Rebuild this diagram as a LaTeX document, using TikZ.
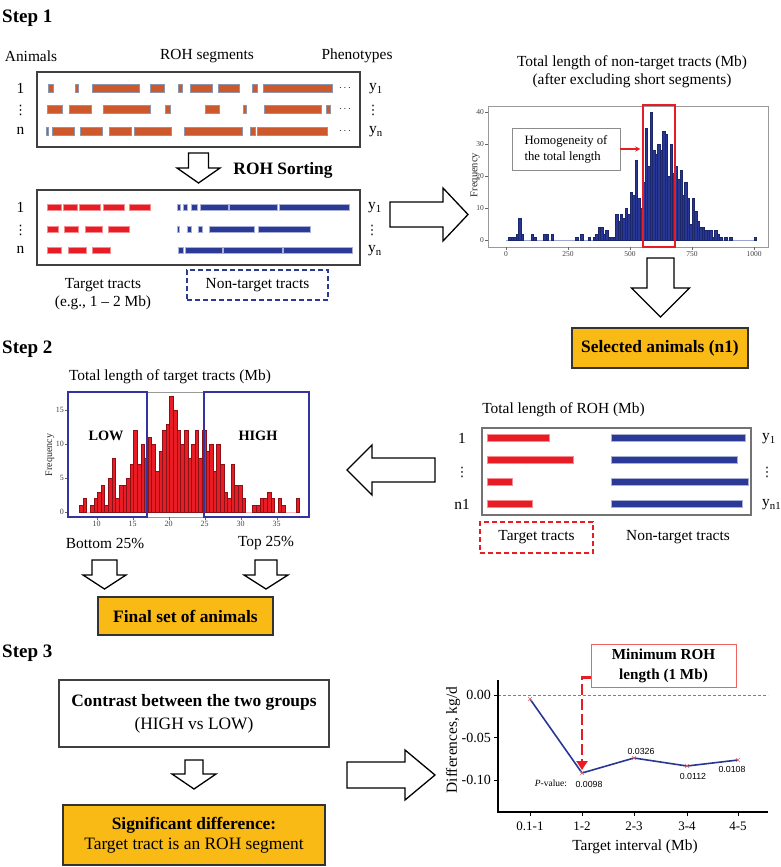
\documentclass[tikz,border=0pt]{standalone}
\usepackage{fontspec}
\setmainfont{Liberation Serif}
\newfontfamily\sansfont{Liberation Sans}
\newfontfamily\symfont{DejaVu Sans}
\usetikzlibrary{arrows.meta}
\definecolor{rohorange}{RGB}{204,88,44}
\definecolor{rohedge}{RGB}{140,150,175}
\definecolor{trgred}{RGB}{232,28,36}
\definecolor{ntblue}{RGB}{42,58,150}
\definecolor{histblue}{RGB}{40,55,150}
\definecolor{boxyellow}{RGB}{249,186,22}
\definecolor{frameblue}{RGB}{52,52,160}
\definecolor{pinkred}{RGB}{238,100,95}
\newcommand{\rowdots}{{\symfont\fontsize{13}{15}\selectfont ⋮}}

\begin{document}
\begin{tikzpicture}[x=1pt, y=-1pt,
  steplbl/.style={font=\fontsize{19}{22}\selectfont\bfseries, anchor=west, inner sep=0pt},
  lbl/.style={font=\fontsize{15.4}{18}\selectfont, align=center, inner sep=0pt},
  blbl/.style={font=\fontsize{17.4}{21}\selectfont\bfseries, align=center, inner sep=0pt},
  boxtxt/.style={font=\fontsize{17.4}{22}\selectfont, align=center, inner sep=0pt},
  ticklbl/.style={font=\fontsize{8}{9}\selectfont, inner sep=1pt, text=black!75},
  axlbl/.style={font=\fontsize{10.5}{12}\selectfont, inner sep=0pt, rotate=90, text=black!85},
  frame/.style={draw=black!75, line width=1.1pt},
  panel/.style={draw=black!40, line width=0.7pt},
  goldbox/.style={draw=black!80, fill=boxyellow, line width=1.1pt},
  blockarr/.style={draw=black, line width=1.3pt, fill=white},
  rawseg/.style={fill=rohorange, draw=rohedge, line width=0.6pt},
  tgtseg/.style={fill=trgred, draw=trgred!50!white, line width=0.4pt},
  ntseg/.style={fill=ntblue, draw=ntblue!40!white, line width=0.4pt},
  bluebar/.style={fill=histblue, draw=histblue!70!black, line width=0.2pt},
  redbar/.style={fill=trgred, draw=trgred!60!black, line width=0.2pt},
  dashbox/.style={dash pattern=on 5pt off 3pt, line width=1.2pt},
  pval/.style={font=\sansfont\fontsize{8.8}{10}\selectfont, inner sep=0pt}
]
\useasboundingbox (0,0) rectangle (780,867);

% ---------- Step 1 ----------
\node[steplbl] (step1) at (2,18) {Step 1};
\node[lbl] (animals) at (31,56) {Animals};
\node[lbl] (rohseg) at (207,56) {ROH segments};
\node[lbl] (pheno) at (357,56) {Phenotypes};

\node[frame, minimum width=323pt, minimum height=75pt] (rawbox) at (198.5,109.5) {};
\foreach \yy/\lst in {88/{48/53,75/78,92/139,150/164,178/182,190/212,218/239,252/257,263/332},
                      109/{47/62,69/91,103/150,165/170,205/219,243/246,264/321,326/330},
                      131/{46/48,52/74,80/102,109/131,134/171,184/242,250/255,257/327}}
  \foreach \a/\b in \lst \draw[rawseg] (\a,\yy-4) rectangle (\b,\yy+4);
\foreach \yy in {88,109,131} \node[font=\fontsize{10}{12}\selectfont] at (345,\yy) {$\cdots$};
\node[lbl] (rawid1) at (20.5,88) {1};
\node[lbl] (rawid2) at (20.5,110) {\rowdots};
\node[lbl] (rawid3) at (20.5,131) {n};
\node[lbl, anchor=west] (rawph1) at (369,89) {y\textsubscript{1}};
\node[lbl] (rawph2) at (373,110) {\rowdots};
\node[lbl, anchor=west] (rawph3) at (369,132) {y\textsubscript{n}};

% sorting arrow
\draw[blockarr] (188.5,153) -- (208.5,153) -- (208.5,168) -- (220,168) -- (198.5,183)
  -- (177,168) -- (188.5,168) -- cycle;
\node[blbl] (sorting) at (283,170) {ROH Sorting};

\node[frame, minimum width=323pt, minimum height=75pt] (sortbox) at (198.5,227.5) {};
\foreach \yy/\lst in {207/{47/61,63/77,79/100,103/124,129/150},
                      229/{47/58,64/78,85/102,108/129},
                      250/{47/61,68/86,92/110}}
  \foreach \a/\b in \lst \draw[tgtseg] (\a,\yy-3) rectangle (\b,\yy+3);
\foreach \yy/\lst in {207/{177/180,183/187,191/197,200/228,229/277,279/349},
                      229/{177/179,187/191,198/202,209/254,258/310},
                      250/{178/183,185/222,223/282,283/352}}
  \foreach \a/\b in \lst \draw[ntseg] (\a,\yy-3) rectangle (\b,\yy+3);
\node[lbl] (sortid1) at (20.5,207) {1};
\node[lbl] (sortid2) at (20.5,230) {\rowdots};
\node[lbl] (sortid3) at (20.5,250) {n};
\node[lbl, anchor=west] (sortph1) at (368,208) {y\textsubscript{1}};
\node[lbl] (sortph2) at (372,230) {\rowdots};
\node[lbl, anchor=west] (sortph3) at (368,251) {y\textsubscript{n}};

\node[lbl] (tgtnote) at (103,294) {Target tracts\\(e.g., 1 -- 2 Mb)};
\node[lbl, draw=ntblue, dashbox, minimum width=141pt, minimum height=30pt] (ntnote) at (257.5,285) {Non-target tracts};

% arrow to histogram
\draw[blockarr] (390,202) -- (443,202) -- (443,188) -- (468,214.5) -- (443,241)
  -- (443,227) -- (390,227) -- cycle;

% histogram of non-target tracts
\node[lbl] (h1title) at (632,71.5) {Total length of non-target tracts (Mb)\\(after excluding short segments)};
\draw[panel] (488,106) rectangle (768,247);
\draw[histblue!45!white, line width=1pt] (506,240) -- (756,240);
\foreach \v [count=\i from 0] in {0,1,1,1,2,7,2,0,0,0,
    2,1,0,0,0,2,2,0,2,0, 0,0,0,0,0,0,0,0,1,0, 2,0,0,1,0,1,2,4,4,2,
    3,1,1,1,8,6,8,7,10,8, 15,14,25,13,10,18,35,23,40,28, 27,30,28,34,33,20,30,21,23,19,
    22,14,18,13,5,13,9,6,4,4, 3,3,3,1,3,2,1,0,1,0, 1,0,0,0,0,0,0,0,0,0, 1}
  {\ifnum\v>0 \draw[bluebar] ({506+\i*2.48},240) rectangle ++(2.48,{-\v*3.2}); \fi}
\foreach \v in {0,10,20,30,40} {
  \draw[black!60] (485,{240-\v*3.2}) -- (488,{240-\v*3.2});
  \node[ticklbl, anchor=east, font=\fontsize{7.5}{9}\selectfont] at (485,{240-\v*3.2}) {\v};}
\foreach \v in {0,250,500,750,1000} {
  \draw[black!60] ({506+\v*0.248},247) -- ++(0,3);
  \node[ticklbl, anchor=north, font=\fontsize{7.5}{9}\selectfont] at ({506+\v*0.248},250) {\v};}
\node[axlbl] (h1ylab) at (475,175) {Frequency};
\node[draw=trgred, line width=1.5pt, minimum width=32pt, minimum height=142pt] (homowin) at (659,176) {};
\node[draw=black!45, line width=0.8pt, fill=white, font=\fontsize{12.7}{16}\selectfont, align=left,
  minimum width=108pt, minimum height=42pt, inner sep=0pt] (homog) at (566,149) {Homogeneity of\\the total length};
\draw[-{Stealth[length=5pt,width=5pt]}, trgred, line width=1.3pt, shorten >=2pt]
  (homog.east) -- (homog.east -| homowin.west);

\draw[blockarr] (647,258) -- (674,258) -- (674,288) -- (689.5,288) -- (660.5,317)
  -- (631.5,288) -- (647,288) -- cycle;
\node[goldbox, blbl, minimum width=176pt, minimum height=40pt] (selected) at (660,348) {Selected animals (n1)};

% ---------- Step 2 ----------
\node[steplbl] (step2) at (2,349) {Step 2};
\node[lbl] (h2title) at (170,377) {Total length of target tracts (Mb)};
\draw[panel] (68,392) rectangle (309,517);
\draw[trgred!30!white, line width=1pt] (79,512) -- (300,512);
\foreach \v [count=\i from 0] in {1,2,0,1,2,3,4,1,5,8, 2,4,4,5,7,12,7,10,8,11,
    10,6,9,12,13,17,15,12,10,12, 8,10,12,8,12,9,10,6,10,7, 3,2,7,4,4,2,0,0,1,1,
    2,2,3,2,0,2,1,0,0,0, 2}
  {\ifnum\v>0 \draw[redbar] ({79.3+\i*3.61},512) rectangle ++(3.61,{-\v*6.8}); \fi}
\foreach \v in {0,5,10,15} {
  \draw[black!60] (65,{512-\v*6.8}) -- (68,{512-\v*6.8});
  \node[ticklbl, anchor=east] at (65,{512-\v*6.8}) {\v};}
\foreach \v in {10,15,20,25,30,35} {
  \draw[black!60] ({96.7+(\v-10)*7.2},517) -- ++(0,3);
  \node[ticklbl, anchor=north] at ({96.7+(\v-10)*7.2},520) {\v};}
\node[axlbl, font=\fontsize{10}{12}\selectfont] (h2ylab) at (50,455) {Frequency};
\node[draw=frameblue, line width=2pt, minimum width=79pt, minimum height=125pt] (lowwin) at (107.5,454.5) {};
\node[draw=frameblue, line width=2pt, minimum width=105pt, minimum height=125pt] (highwin) at (256.5,454.5) {};
\node[blbl, font=\fontsize{14.3}{17}\selectfont\bfseries] (lowlbl) at (106,436) {LOW};
\node[blbl, font=\fontsize{14.3}{17}\selectfont\bfseries] (highlbl) at (258,436) {HIGH};
\node[lbl] (bottom) at (105,543) {Bottom 25\%};
\node[lbl] (top) at (266,543) {Top 25\%};

\draw[blockarr] (92,560) -- (117,560) -- (117,575) -- (126,575) -- (104.5,589)
  -- (83,575) -- (92,575) -- cycle;
\draw[blockarr] (255,560) -- (277,560) -- (277,575) -- (288,575) -- (266,589)
  -- (244,575) -- (255,575) -- cycle;
\node[goldbox, blbl, minimum width=175pt, minimum height=38pt] (finalset) at (185.5,616) {Final set of animals};

% total ROH per animal
\node[lbl] (rohtitle) at (563.5,410) {Total length of ROH (Mb)};
\node[draw=black!55, line width=1.5pt, minimum width=269pt, minimum height=87pt] (rohbox) at (616.5,471.5) {};
\foreach \yy/\e in {438/549,460/573,482/512,504/532} \draw[tgtseg] (487,\yy-3.5) rectangle (\e,\yy+3.5);
\foreach \yy/\e in {438/745,460/737,482/748,504/742} \draw[ntseg] (611,\yy-3.5) rectangle (\e,\yy+3.5);
\node[lbl] (rohid1) at (462,438) {1};
\node[lbl] (rohid2) at (462,472) {\rowdots};
\node[lbl] (rohid3) at (462,504) {n1};
\node[lbl, anchor=west] (rohph1) at (762,439) {y\textsubscript{1}};
\node[lbl] (rohph2) at (767,472) {\rowdots};
\node[lbl, anchor=west] (rohph3) at (762,505) {y\textsubscript{n1}};
\node[lbl, draw=trgred, dashbox, minimum width=113pt, minimum height=31pt] (tgtbox) at (536.5,537.5) {Target tracts};
\node[lbl] (ntlbl) at (678,537) {Non-target tracts};

\draw[blockarr] (435,458) -- (372,458) -- (372,445) -- (347,470) -- (372,495)
  -- (372,482) -- (435,482) -- cycle;

% ---------- Step 3 ----------
\node[steplbl] (step3) at (2,653) {Step 3};
\node[frame, boxtxt, minimum width=270pt, minimum height=67pt, font=\fontsize{17.4}{23}\selectfont]
  (contrast) at (194,713.5) {\textbf{Contrast between the two groups}\\(HIGH vs LOW)};
\draw[blockarr] (185,760) -- (203,760) -- (203,774) -- (216,774) -- (194,789)
  -- (172,774) -- (185,774) -- cycle;
\node[goldbox, boxtxt, minimum width=262pt, minimum height=60pt, font=\fontsize{17.4}{20}\selectfont]
  (signif) at (194,835) {\textbf{Significant difference:}\\Target tract is an ROH segment};
\draw[blockarr] (347,762) -- (405,762) -- (405,750) -- (435,775) -- (405,800)
  -- (405,788) -- (347,788) -- cycle;

% difference plot
\draw[pinkred!90!black, line width=1pt, dash pattern=on 2.5pt off 2.5pt] (498,695) -- (768,695);
\draw[black, line width=1.2pt] (498,680) -- (498,812) -- (768,812);
\foreach \v/\t in {0/0.00,1/-0.05,2/-0.10} {
  \draw[black, line width=0.8pt] (494,{695+\v*42.5}) -- (498,{695+\v*42.5});
  \node[anchor=east, inner sep=0pt, font=\fontsize{14}{16}\selectfont] at (491,{695+\v*42.5}) {\t};}
\foreach \xx/\t in {530/0.1-1,582/1-2,634/2-3,687/3-4,738/4-5} {
  \draw[black, line width=0.8pt] (\xx,812) -- (\xx,816);
  \node[inner sep=0pt, font=\fontsize{13}{15}\selectfont] at (\xx,826) {\t};}
\node[inner sep=0pt, rotate=90, font=\fontsize{15.4}{18}\selectfont] (diffylab) at (453,740) {Differences, kg/d};
\node[lbl] (diffxlab) at (635,847) {Target interval (Mb)};
\coordinate (d1) at (530,699);
\coordinate (d2) at (582,773);
\coordinate (d3) at (634,758);
\coordinate (d4) at (687,766);
\coordinate (d5) at (738,760);
\draw[histblue, line width=1.6pt] (d1) -- (d2) -- (d3) -- (d4) -- (d5);
\foreach \p in {d1,d2,d3,d4,d5}
  \draw[pinkred, line width=0.5pt] ([shift={(-2,-2)}]\p) -- ([shift={(2,2)}]\p)
    ([shift={(-2,2)}]\p) -- ([shift={(2,-2)}]\p);
\node[inner sep=0pt, font=\fontsize{9.5}{11}\selectfont] (pvlbl) at (551,783) {\textit{P}-value:};
\node[pval] (pv2) at (589,784) {0.0098};
\node[pval] (pv3) at (641,751) {0.0326};
\node[pval] (pv4) at (693,776) {0.0112};
\node[pval] (pv5) at (732,769) {0.0108};
\node[draw=pinkred, line width=1pt, blbl, font=\fontsize{15.2}{20}\selectfont\bfseries,
  minimum width=145pt, minimum height=43pt] (minroh) at (663.5,665.5) {Minimum ROH\\length (1 Mb)};
\draw[trgred, line width=2.8pt, dash pattern=on 11pt off 4pt, -{Triangle[length=9pt,width=11pt]}]
  ([yshift=10pt]minroh.south west) -| ([yshift=3pt]d2);
\end{tikzpicture}
\end{document}
